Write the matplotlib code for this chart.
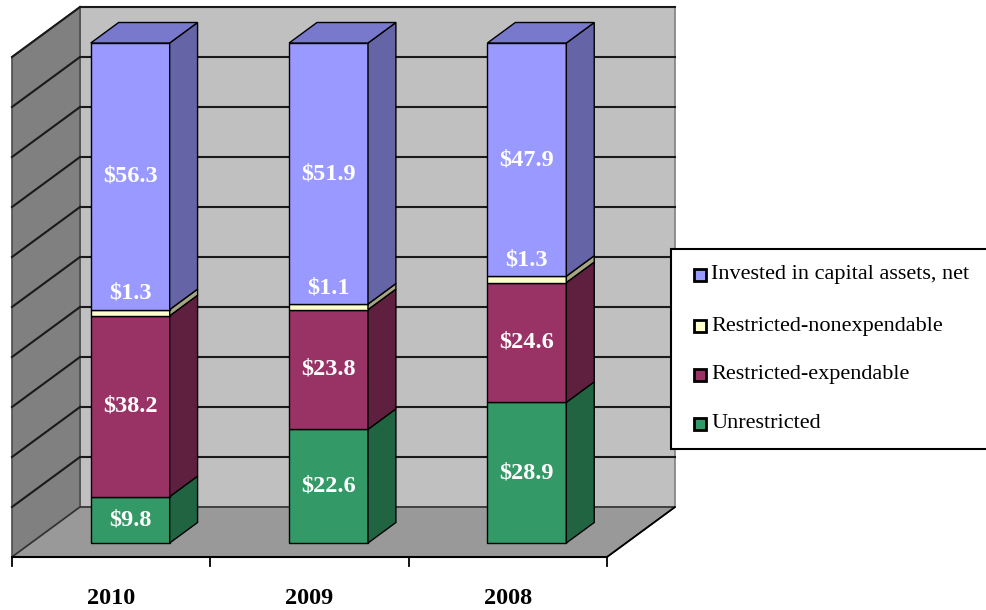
import matplotlib.pyplot as plt
from matplotlib.patches import Polygon, Rectangle

years = ['2010', '2009', '2008']
series = ['Unrestricted', 'Restricted-expendable', 'Restricted-nonexpendable',
          'Invested in capital assets, net']
unrestricted = [9.8, 22.6, 28.9]
restricted_exp = [38.2, 23.8, 24.6]
restricted_nonexp = [1.3, 1.1, 1.3]
invested = [56.3, 51.9, 47.9]

values = [unrestricted, restricted_exp, restricted_nonexp, invested]
front_col = ['#339966', '#993366', '#ffffcc', '#9999ff']
side_col = ['#216442', '#5f2040', '#a6a684', '#6464a6']
top_col = ['#287a52', '#7a2952', '#cccca3', '#7878cc']

# oblique "3d" geometry (data units: x = category, y = percent)
ddx, ddy = 0.343, 10.0      # full depth vector
d0, d1 = 0.28, 0.69         # bar depth range
bw = 0.398                  # bar width

fig = plt.figure(figsize=(9.87, 6.1), dpi=100)
ax = fig.add_axes([0, 0, 1, 1])
ax.set_xlim(-0.0605, 4.916)
ax.set_ylim(-10.6, 111.4)
ax.axis('off')

n = len(years)
# walls and floor
ax.add_patch(Polygon([(ddx, ddy), (n + ddx, ddy), (n + ddx, 100 + ddy), (ddx, 100 + ddy)],
                     facecolor='#c0c0c0', edgecolor='#808080', lw=1.2, zorder=1))
ax.add_patch(Polygon([(0, 0), (ddx, ddy), (ddx, 100 + ddy), (0, 100)],
                     facecolor='#808080', edgecolor='#4d4d4d', lw=1.2, zorder=1))
ax.add_patch(Polygon([(0, 0), (n, 0), (n + ddx, ddy), (ddx, ddy)],
                     facecolor='#999999', edgecolor='#333333', lw=1.2, zorder=1))
for v in range(10, 101, 10):
    ax.plot([ddx, n + ddx], [v + ddy, v + ddy], color='#1a1a1a', lw=1.5, zorder=2)
    ax.plot([0, ddx], [v, v + ddy], color='#1a1a1a', lw=1.5, zorder=2)
ax.plot([0, n], [0, 0], color='black', lw=1.5, zorder=3)
ax.plot([n, n + ddx], [0, ddy], color='black', lw=1.2, zorder=3)
for i in range(n + 1):
    ax.plot([i, i], [0, -1.7], color='black', lw=1.3, zorder=3)

for i, yr in enumerate(years):
    ax.text(i + 0.5, -8.2, yr, ha='center', va='center', fontsize=17.5,
            fontweight='bold', family='Liberation Serif')

# bars (100% stacked)
bdx, bdy = (d1 - d0) * ddx, (d1 - d0) * ddy
for i in range(n):
    total = sum(s[i] for s in values)
    cx = i + 0.5 + d0 * ddx
    x0, x1 = cx - bw / 2, cx + bw / 2
    base = 0.0
    for k, s in enumerate(values):
        pct = s[i] / total * 100
        y0 = base + d0 * ddy
        y1 = y0 + pct
        ax.bar(cx, pct, bottom=y0, width=bw, color=front_col[k],
               edgecolor='black', lw=1, zorder=5)
        ax.add_patch(Polygon([(x1, y0), (x1 + bdx, y0 + bdy), (x1 + bdx, y1 + bdy), (x1, y1)],
                             facecolor=side_col[k], edgecolor='black', lw=1, zorder=5))
        if k == len(values) - 1:
            ax.add_patch(Polygon([(x0, y1), (x1, y1), (x1 + bdx, y1 + bdy), (x0 + bdx, y1 + bdy)],
                                 facecolor=top_col[k], edgecolor='black', lw=1, zorder=5))
        ly = (y0 + y1) / 2 if pct > 5 else y1 + 3.3
        ax.text(cx, ly, f'${s[i]:.1f}', ha='center', va='center', color='white',
                fontsize=17.5, fontweight='bold', family='Liberation Serif', zorder=6)
        base += pct

# legend box
leg = ax.transAxes
ax.add_patch(Rectangle((0.680, 0.264), 0.34, 0.328, transform=leg, facecolor='white',
                       edgecolor='black', lw=1.5, zorder=8, clip_on=False))
leg_y = [1 - 275 / 610, 1 - 326 / 610, 1 - 375 / 610, 1 - 424 / 610]
for j, k in enumerate([3, 2, 1, 0]):
    ax.add_patch(Rectangle((0.7035, leg_y[j] - 0.0095), 0.0122, 0.019, transform=leg,
                           facecolor=front_col[k], edgecolor='black', lw=2, zorder=9))
    ax.text(0.7205, leg_y[j], series[k], transform=leg, ha='left', va='center',
            fontsize=16, family='Liberation Serif', zorder=9)

fig.savefig('out.png', dpi=100)
